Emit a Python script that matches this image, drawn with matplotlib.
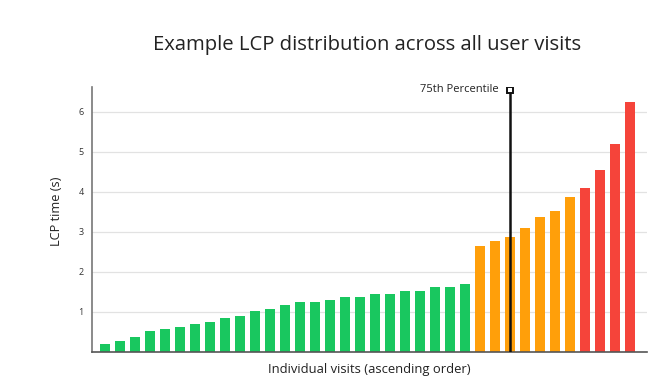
import matplotlib
matplotlib.use("Agg")
import matplotlib.pyplot as plt

# valores de LCP (s) por visita, ordenados de menor a mayor
lcp_verde = [0.20, 0.27, 0.38, 0.53, 0.58, 0.63, 0.69, 0.76, 0.84, 0.90,
             1.02, 1.07, 1.17, 1.24, 1.24, 1.30, 1.38, 1.38, 1.46, 1.46,
             1.52, 1.52, 1.62, 1.62, 1.70]
lcp_naranja = [2.64, 2.78, 2.87, 3.10, 3.36, 3.52, 3.88]
lcp_rojo = [4.10, 4.55, 5.19, 6.24]
percentil_75 = 27  # indice de la visita en el percentil 75
y_ticks = [1, 2, 3, 4, 5, 6]

colores = {"verde": "#19C75F", "naranja": "#FF9F0A", "rojo": "#F5443A"}

plt.rcParams["font.family"] = ["Open Sans", "DejaVu Sans"]

fig = plt.figure(figsize=(6.66, 3.81), dpi=100)
ax = fig.add_axes([0.138, 0.076, 0.833, 0.696])

valores = lcp_verde + lcp_naranja + lcp_rojo
color_barras = ([colores["verde"]] * len(lcp_verde) +
                [colores["naranja"]] * len(lcp_naranja) +
                [colores["rojo"]] * len(lcp_rojo))
posiciones = list(range(len(valores)))

ax.bar(posiciones, valores, width=0.68, color=color_barras, zorder=2)

# linea del percentil 75
ax.plot([percentil_75, percentil_75], [0, 6.55], color="#111111", lw=1.8, zorder=3)
ax.plot([percentil_75], [6.55], marker="s", markersize=5, markerfacecolor="white",
        markeredgecolor="#111111", markeredgewidth=1.4, zorder=4)
ax.text(percentil_75 - 0.75, 6.55, "75th Percentile", ha="right", va="center",
        fontsize=8, color="#222222")

ax.set_xlim(-0.87, 36.13)
ax.set_ylim(0, 6.62)
ax.set_yticks(y_ticks)
ax.set_xticks([])
ax.tick_params(axis="y", length=0, labelsize=6.5, pad=6, colors="#333333")
ax.grid(axis="y", color="#e2e2e2", lw=0.9, zorder=0)

for lado in ["top", "right"]:
    ax.spines[lado].set_visible(False)
ax.spines["left"].set_color("#777777")
ax.spines["left"].set_linewidth(1.2)
ax.spines["bottom"].set_color("#555555")
ax.spines["bottom"].set_linewidth(1.2)

ax.set_ylabel("LCP time (s)", fontsize=9.2, color="#222222")
ax.yaxis.set_label_coords(-0.052, 0.53)
ax.set_xlabel("Individual visits (ascending order)", fontsize=9.4, color="#222222", labelpad=8)

fig.text(0.551, 0.882, "Example LCP distribution across all user visits",
         ha="center", va="center", fontsize=14.6, color="#222222")

fig.savefig("out.png", dpi=100)
